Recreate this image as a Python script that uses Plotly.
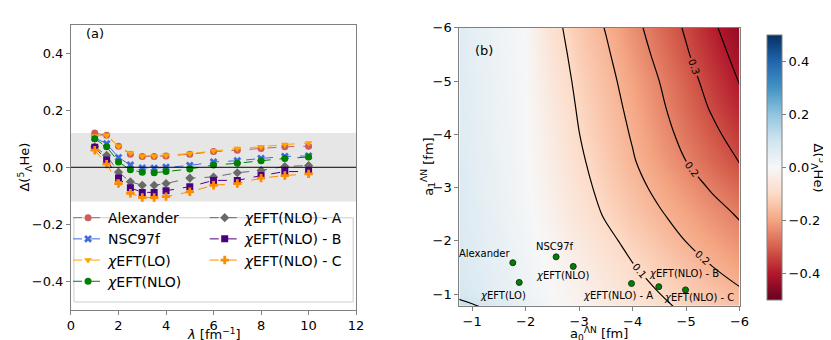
import numpy as np
import plotly.graph_objects as go
from plotly.colors import diverging

# ---- panel (a): Delta vs lambda ----
lam = [1, 1.5, 2, 2.5, 3, 3.5, 4, 5, 6, 7, 8, 9, 10]
alexander = [0.120, 0.112, 0.074, 0.046, 0.038, 0.038, 0.040, 0.046, 0.055, 0.060, 0.066, 0.072, 0.074]
nsc97f = [0.103, 0.083, 0.034, 0.008, -0.002, -0.003, 0.000, 0.006, 0.019, 0.023, 0.031, 0.038, 0.040]
eft_lo = [0.110, 0.112, 0.074, 0.050, 0.040, 0.040, 0.042, 0.048, 0.058, 0.066, 0.072, 0.080, 0.085]
eft_nlo = [0.100, 0.072, 0.019, -0.009, -0.017, -0.019, -0.015, -0.006, 0.008, 0.014, 0.023, 0.031, 0.036]
eft_nlo_a = [0.072, 0.042, -0.017, -0.051, -0.063, -0.063, -0.057, -0.038, -0.034, -0.019, -0.011, 0.003, 0.006]
eft_nlo_b = [0.070, 0.026, -0.038, -0.072, -0.088, -0.088, -0.082, -0.068, -0.046, -0.046, -0.029, -0.015, -0.015]
eft_nlo_c = [0.060, 0.011, -0.057, -0.091, -0.106, -0.106, -0.103, -0.086, -0.063, -0.057, -0.038, -0.029, -0.023]
band_half = 0.12

# ---- panel (b): Delta over (a0, a1) ----
a0_grid = [-0.5, -1.0, -1.5, -2.0, -2.5, -3.0, -3.5, -4.0, -4.5, -5.0, -5.5, -6.0]
a1_grid = [-0.5, -1.0, -1.5, -2.0, -2.5, -3.0, -3.5, -4.0, -4.5, -5.0, -5.5, -6.0]
delta_grid = [
    [0.178, 0.150, 0.110, 0.058, 0.008, -0.015, -0.036, -0.056, -0.077, -0.097, -0.115, -0.135],
    [0.096, 0.072, 0.048, 0.024, 0.000, -0.025, -0.050, -0.074, -0.099, -0.121, -0.143, -0.165],
    [0.089, 0.065, 0.042, 0.019, -0.006, -0.036, -0.066, -0.096, -0.122, -0.148, -0.174, -0.200],
    [0.085, 0.061, 0.038, 0.014, -0.014, -0.050, -0.085, -0.117, -0.146, -0.176, -0.203, -0.230],
    [0.082, 0.058, 0.034, 0.010, -0.025, -0.067, -0.106, -0.138, -0.169, -0.199, -0.228, -0.256],
    [0.080, 0.056, 0.032, 0.007, -0.033, -0.079, -0.120, -0.155, -0.190, -0.223, -0.257, -0.290],
    [0.078, 0.054, 0.029, 0.005, -0.040, -0.090, -0.131, -0.170, -0.210, -0.250, -0.289, -0.328],
    [0.076, 0.052, 0.028, 0.004, -0.045, -0.099, -0.140, -0.180, -0.225, -0.269, -0.311, -0.353],
    [0.075, 0.051, 0.027, 0.003, -0.052, -0.107, -0.148, -0.190, -0.238, -0.286, -0.333, -0.380],
    [0.074, 0.050, 0.026, 0.002, -0.060, -0.115, -0.156, -0.201, -0.250, -0.300, -0.351, -0.403],
    [0.073, 0.049, 0.025, 0.001, -0.069, -0.124, -0.166, -0.216, -0.266, -0.318, -0.370, -0.423],
    [0.072, 0.048, 0.024, 0.000, -0.079, -0.133, -0.178, -0.230, -0.281, -0.333, -0.389, -0.445],
]
pt_labels = ["Alexander", "<i>χ</i>EFT(LO)", "NSC97f", "<i>χ</i>EFT(NLO)",
             "<i>χ</i>EFT(NLO) - A", "<i>χ</i>EFT(NLO) - B", "<i>χ</i>EFT(NLO) - C"]
pt_a0 = [-1.76, -1.88, -2.57, -2.89, -3.98, -4.49, -4.99]
pt_a1 = [-1.59, -1.22, -1.70, -1.52, -1.20, -1.14, -1.08]
pt_shift = [(-28, 9), (-16, -13), (-1, 10), (-11, -9), (-14, -12), (25, 13), (13, -8)]

FONT = "DejaVu Sans"
SPINE = "#808080"
W, H = 831, 340
DELTA = "Δ(<sup>5</sup><sub>Λ</sub>He)"


def px_x(x):
    return x / W


def px_y(y):
    return 1 - y / H


fig = go.Figure()

series = [
    ("Alexander", alexander, "indianred", "circle", "legend"),
    ("NSC97f", nsc97f, "royalblue", "x", "legend"),
    ("<i>χ</i>EFT(LO)", eft_lo, "orange", "triangle-down", "legend"),
    ("<i>χ</i>EFT(NLO)", eft_nlo, "green", "circle", "legend"),
    ("<i>χ</i>EFT(NLO) - A", eft_nlo_a, "dimgray", "diamond", "legend2"),
    ("<i>χ</i>EFT(NLO) - B", eft_nlo_b, "indigo", "square", "legend2"),
    ("<i>χ</i>EFT(NLO) - C", eft_nlo_c, "darkorange", "cross", "legend2"),
]
for name, vals, col, sym, leg in series:
    fig.add_trace(go.Scatter(
        x=lam, y=vals, name=name, mode="lines+markers", legend=leg,
        line=dict(color=col, width=1, dash="dash"),
        marker=dict(color=col, symbol=sym, size=7),
        xaxis="x", yaxis="y",
    ))

fig.add_shape(type="rect", xref="x domain", yref="y", x0=0, x1=1,
              y0=-band_half, y1=band_half, fillcolor="#e6e6e6", line_width=0, layer="below")
fig.add_shape(type="line", xref="x domain", yref="y", x0=0, x1=1, y0=0, y1=0,
              line=dict(color="black", width=1))
# legend frame (holds both legend columns)
fig.add_shape(type="rect", xref="paper", yref="paper", x0=px_x(63), x1=px_x(347),
              y0=px_y(293), y1=px_y(207), fillcolor="rgba(255,255,255,0.85)",
              line=dict(color="#cccccc", width=1))

# heatmap + contours of |Delta|
fig.add_trace(go.Heatmap(
    x=a0_grid, y=a1_grid, z=delta_grid, zsmooth="best", zmin=-0.5, zmax=0.5,
    colorscale=diverging.RdBu, xaxis="x2", yaxis="y2", hoverinfo="skip",
    colorbar=dict(
        x=px_x(758), xanchor="left", thickness=15, len=291 / H, y=px_y(156), yanchor="middle",
        tickvals=[-0.4, -0.2, 0, 0.2, 0.4], tickformat=".1f", ticks="outside", ticklen=4,
        tickcolor=SPINE, outlinewidth=1, outlinecolor=SPINE,
        tickfont=dict(family=FONT, size=13, color="black"),
    ),
))
fig.add_trace(go.Contour(
    x=a0_grid, y=a1_grid, z=np.abs(np.array(delta_grid)), xaxis="x2", yaxis="y2",
    showscale=False, hoverinfo="skip", showlegend=False,
    contours=dict(coloring="none", start=0.0999, end=0.4, size=0.075, showlabels=True,
                  labelformat=".1f", labelfont=dict(family=FONT, size=10, color="black")),
    line=dict(color="black", width=1.2, smoothing=1.0),
))
fig.add_trace(go.Scatter(
    x=pt_a0, y=pt_a1, mode="markers", showlegend=False, xaxis="x2", yaxis="y2",
    marker=dict(color="green", size=6, line=dict(color="#1a331a", width=1)),
))
for lab, a0, a1, (dx, dy) in zip(pt_labels, pt_a0, pt_a1, pt_shift):
    fig.add_annotation(x=a0, y=a1, xref="x2", yref="y2", text=lab, showarrow=False,
                       xshift=dx, yshift=dy, font=dict(family=FONT, size=10, color="black"))

fig.add_annotation(x=0.045, y=0.969, xref="x domain", yref="y domain", text="(a)",
                   showarrow=False, xanchor="left", yanchor="middle",
                   font=dict(family=FONT, size=13, color="black"))
fig.add_annotation(x=0.049, y=0.919, xref="x2 domain", yref="y2 domain", text="(b)",
                   showarrow=False, xanchor="left", yanchor="middle",
                   font=dict(family=FONT, size=13, color="black"))

# axis titles placed as annotations
titles = [
    ("<i>λ</i> [fm<sup>−1</sup>]", 205, 326, 0),
    (DELTA, 13, 155, -90),
    ("a<sub>0</sub><sup>ΛN</sup> [fm]", 597, 326, 0),
    ("a<sub>1</sub><sup>ΛN</sup> [fm]", 423, 155, -90),
    (DELTA, 820, 156, 90),
]
for txt, x, y, ang in titles:
    fig.add_annotation(x=px_x(x), y=px_y(y), xref="paper", yref="paper", text=txt,
                       showarrow=False, textangle=ang, xanchor="center", yanchor="middle",
                       borderpad=0, font=dict(family=FONT, size=13, color="black"))

axis_common = dict(showline=True, mirror=True, linecolor=SPINE, linewidth=1, ticks="outside",
                   ticklen=4, tickcolor=SPINE, showgrid=False, zeroline=False,
                   tickfont=dict(family=FONT, size=13, color="black"))
legend_common = dict(xanchor="left", yanchor="top", orientation="v", bgcolor="rgba(0,0,0,0)",
                     borderwidth=0, tracegroupgap=0, itemwidth=30,
                     font=dict(family=FONT, size=14, color="black"))

fig.update_layout(
    width=W, height=H, margin=dict(l=0, r=0, t=0, b=0),
    plot_bgcolor="white", paper_bgcolor="white",
    font=dict(family=FONT, size=13, color="black"),
    xaxis=dict(domain=[px_x(60), px_x(350)], range=[0, 12], tickvals=[0, 2, 4, 6, 8, 10, 12],
               anchor="y", **axis_common),
    yaxis=dict(domain=[px_y(301), px_y(10)], range=[-0.5, 0.5], tickvals=[-0.4, -0.2, 0, 0.2, 0.4],
               tickformat=".1f", anchor="x", **axis_common),
    xaxis2=dict(domain=[px_x(455), px_x(740)], range=[-0.76, -6], tickvals=[-1, -2, -3, -4, -5, -6],
                anchor="y2", **axis_common),
    yaxis2=dict(domain=[px_y(297), px_y(13)], range=[-0.78, -6], tickvals=[-1, -2, -3, -4, -5, -6],
                anchor="x2", **axis_common),
    legend=dict(x=px_x(57), y=px_y(191), **legend_common),
    legend2=dict(x=px_x(196), y=px_y(191), **legend_common),
)

fig.write_html("out.html")
